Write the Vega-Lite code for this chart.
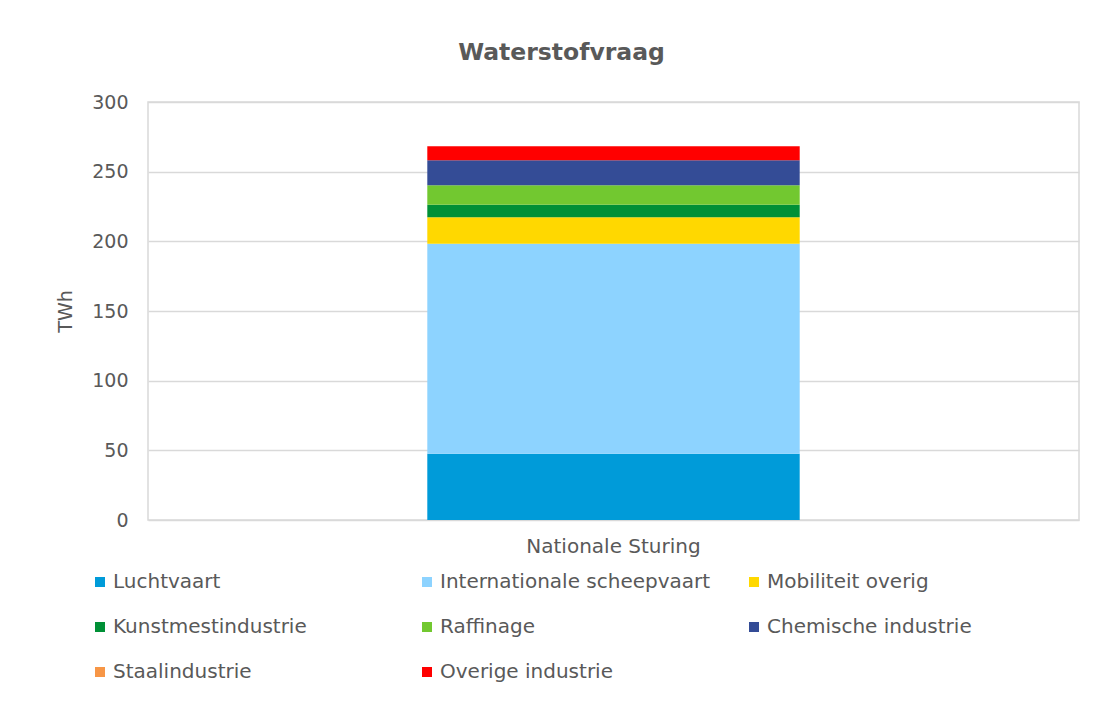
{
  "$schema": "https://vega.github.io/schema/vega-lite/v6.json",
  "width": 931,
  "height": 418,
  "autosize": {"type": "none"},
  "padding": {"left": 148, "top": 102, "right": 23, "bottom": 184},
  "background": "white",
  "title": {
    "text": "Waterstofvraag",
    "fontSize": 23.5,
    "fontWeight": "bold",
    "color": "#595959",
    "anchor": "middle",
    "dx": -52,
    "offset": 29
  },
  "data": {
    "values": [
      {"scenario": "Nationale Sturing", "sector": "Luchtvaart", "value": 47.5, "order": 1},
      {"scenario": "Nationale Sturing", "sector": "Internationale scheepvaart", "value": 150.7, "order": 2},
      {"scenario": "Nationale Sturing", "sector": "Mobiliteit overig", "value": 19.0, "order": 3},
      {"scenario": "Nationale Sturing", "sector": "Kunstmestindustrie", "value": 9.1, "order": 4},
      {"scenario": "Nationale Sturing", "sector": "Raffinage", "value": 13.9, "order": 5},
      {"scenario": "Nationale Sturing", "sector": "Chemische industrie", "value": 18.0, "order": 6},
      {"scenario": "Nationale Sturing", "sector": "Staalindustrie", "value": 0, "order": 7},
      {"scenario": "Nationale Sturing", "sector": "Overige industrie", "value": 10.1, "order": 8}
    ]
  },
  "mark": {"type": "bar", "width": {"band": 0.4}},
  "encoding": {
    "x": {
      "field": "scenario",
      "type": "nominal",
      "scale": {"paddingInner": 0, "paddingOuter": 0},
      "axis": {
        "title": null,
        "labelAngle": 0,
        "labelFontSize": 20,
        "labelColor": "#595959",
        "domain": false,
        "ticks": false,
        "labelPadding": 16
      }
    },
    "y": {
      "field": "value",
      "type": "quantitative",
      "stack": "zero",
      "scale": {"domain": [0, 300]},
      "axis": {
        "title": "TWh",
        "values": [0, 50, 100, 150, 200, 250, 300],
        "grid": true,
        "gridColor": "#D9D9D9",
        "gridWidth": 1.5,
        "domain": false,
        "ticks": false,
        "labelFontSize": 19,
        "labelColor": "#595959",
        "labelPadding": 20,
        "titleFontSize": 19,
        "titleFontWeight": "normal",
        "titleColor": "#595959",
        "titlePadding": 16
      }
    },
    "color": {
      "field": "sector",
      "type": "nominal",
      "scale": {
        "domain": ["Luchtvaart", "Internationale scheepvaart", "Mobiliteit overig", "Kunstmestindustrie", "Raffinage", "Chemische industrie", "Staalindustrie", "Overige industrie"],
        "range": ["#009BD9", "#8DD3FF", "#FFD800", "#009036", "#72C830", "#344C96", "#F79646", "#FF0000"]
      },
      "legend": {
        "orient": "none",
        "legendX": -58,
        "legendY": 470,
        "columns": 3,
        "direction": "horizontal",
        "title": null,
        "symbolType": "square",
        "symbolSize": 100,
        "symbolStrokeWidth": 0,
        "symbolOpacity": 1,
        "labelFontSize": 20,
        "labelColor": "#595959",
        "labelLimit": 400,
        "labelOffset": 3,
        "gridAlign": "all",
        "columnPadding": 33,
        "rowPadding": 25,
        "padding": 0
      }
    },
    "order": {"field": "order", "type": "quantitative"}
  },
  "config": {
    "font": "DejaVu Sans",
    "view": {"stroke": "#D9D9D9", "strokeWidth": 1.5}
  }
}
